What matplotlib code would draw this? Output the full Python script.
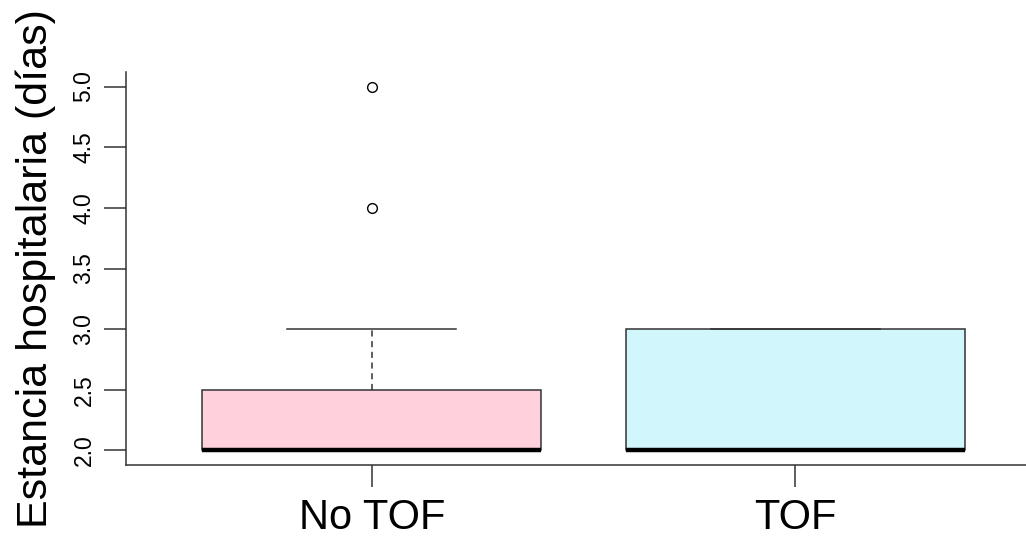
import matplotlib
matplotlib.use("Agg")
import matplotlib.pyplot as plt

plt.rcParams['font.family'] = ['Liberation Sans', 'DejaVu Sans']

groups = ['No TOF', 'TOF']
q1 = [2.0, 2.0]
medians = [2.0, 2.0]
q3 = [2.5, 3.0]
whisk_lo = [2.0, 2.0]
whisk_hi = [3.0, 3.0]
outliers = [[4.0, 5.0], []]
box_colors = ['#FFD1DC', '#D1F7FC']
yticks = [2.0, 2.5, 3.0, 3.5, 4.0, 4.5, 5.0]

stats = []
for i, name in enumerate(groups):
    stats.append(dict(label=name, med=medians[i], q1=q1[i], q3=q3[i],
                      whislo=whisk_lo[i], whishi=whisk_hi[i], fliers=outliers[i]))

fig = plt.figure(figsize=(10.26, 5.37), dpi=100)
ax = fig.add_axes([126 / 1026, 72 / 537, 915 / 1026, 393 / 537])

line_col = '#333333'
bp = ax.bxp(stats, positions=[1, 2], widths=0.8, capwidths=0.4, patch_artist=True,
            boxprops=dict(edgecolor=line_col, linewidth=1.1),
            medianprops=dict(color='black', linewidth=3.2, solid_capstyle='butt'),
            whiskerprops=dict(color=line_col, linewidth=1.1, linestyle=(0, (4, 3))),
            capprops=dict(color=line_col, linewidth=1.1),
            flierprops=dict(marker='o', markerfacecolor='none', markeredgecolor='black',
                            markersize=7, markeredgewidth=1))
for patch, c in zip(bp['boxes'], box_colors):
    patch.set_facecolor(c)

ax.set_xlim(0.42, 2.58)
ax.set_ylim(1.88, 5.12)
ax.spines['top'].set_visible(False)
ax.spines['right'].set_visible(False)
for s in ['left', 'bottom']:
    ax.spines[s].set_color(line_col)
    ax.spines[s].set_linewidth(1.1)

ax.set_yticks(yticks)
ax.set_yticklabels([f'{v:.1f}' for v in yticks], rotation=90, va='center', fontsize=16.5)
ax.set_xticks([1, 2])
ax.set_xticklabels(groups, fontsize=30)
ax.tick_params(axis='y', length=16, width=1.1, color=line_col, pad=6)
ax.tick_params(axis='x', length=16, width=1.1, color=line_col, pad=8)
ax.set_ylabel('Estancia hospitalaria (días)', fontsize=31, labelpad=12)

fig.savefig('out.png', dpi=100)
